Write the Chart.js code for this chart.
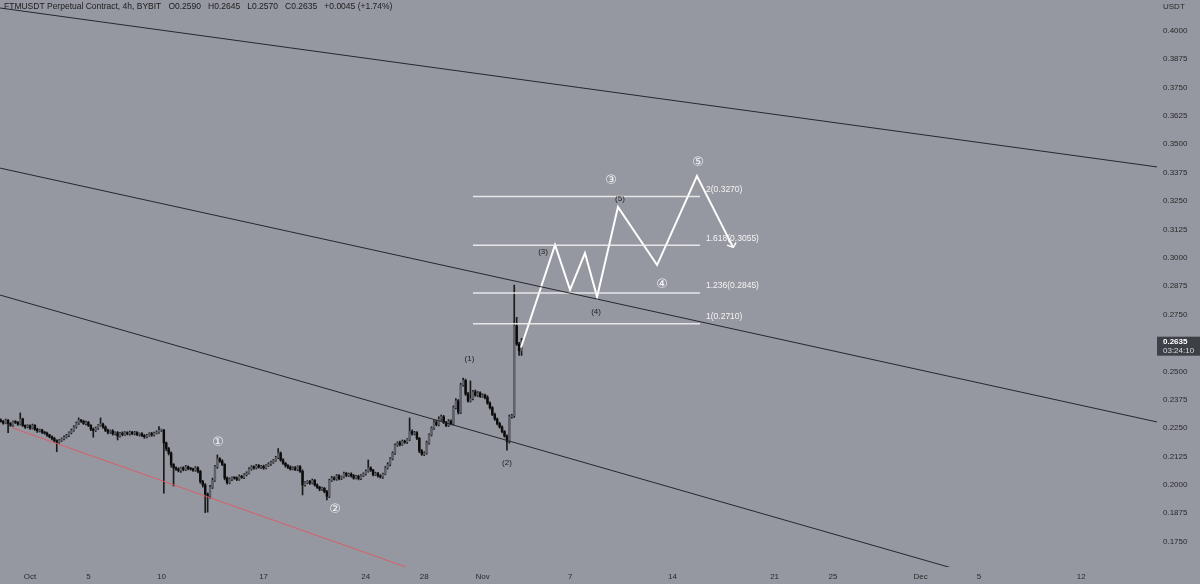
<!DOCTYPE html>
<html>
<head>
<meta charset="utf-8">
<script src="https://cdn.jsdelivr.net/npm/chart.js@4.4.1/dist/chart.umd.min.js"></script>
<style>
  body { margin: 0; background: #9598a1; }
  #wrap { width: 1200px; height: 584px; }
</style>
</head>
<body>
<div id="wrap"><canvas id="myChart" width="1200" height="584"></canvas></div>
<script>
'use strict'

// 4h candles, x = days since Oct 1, prices in 1/10000 USDT
let startDay = -2;
let firstOpen = 2285;
let closes = [
  2280,2272,2285,2270,2262,2278, 2275,2268,2290,2262,2255,2260,
  2250,2262,2245,2238,2242,2232, 2228,2220,2212,2205,2195,2188,
  2195,2203,2210,2218,2230,2240, 2255,2272,2285,2280,2270,2275,
  2262,2245,2240,2250,2262,2268, 2255,2240,2232,2238,2225,2230,
  2215,2228,2222,2230,2225,2232, 2226,2230,2222,2225,2218,2212,
  2218,2226,2220,2228,2232,2240, 2240,2185,2160,2140,2090,2075,
  2070,2062,2075,2068,2080,2072, 2070,2065,2075,2060,2015,2000,
  1960,1950,1990,2020,2080,2115, 2105,2090,2030,2010,2025,2032,
  2030,2025,2038,2033,2045,2052, 2070,2080,2075,2085,2078,2082,
  2075,2085,2092,2100,2108,2120, 2140,2110,2095,2085,2078,2070,
  2075,2068,2080,2060,2000,2010, 2015,2008,2020,2000,1990,1982,
  1985,1970,1950,2020,2030,2025, 2040,2028,2035,2050,2042,2048,
  2040,2030,2038,2028,2040,2048, 2060,2075,2065,2045,2050,2040,
  2035,2048,2075,2090,2115,2140, 2175,2185,2178,2192,2188,2200,
  2235,2225,2230,2205,2150,2135, 2140,2185,2220,2250,2275,2265,
  2290,2300,2275,2262,2280,2270, 2340,2370,2320,2440,2460,2400,
  2370,2380,2410,2395,2405,2390, 2395,2385,2360,2340,2310,2290,
  2270,2255,2235,2215,2190,2300, 2305,2700,2620,2590,2635
];
let wickUp = [
  6,4,5,3,5,4, 5,4,27,4,3,5, 5,6,4,5,4,3, 4,5,3,4,5,4,
  5,4,6,5,4,6, 6,5,10,4,5,6, 5,4,6,5,4,27, 4,5,6,4,5,4,
  5,4,6,5,4,5, 4,6,5,4,5,4, 5,4,6,5,6,17, 6,5,4,5,6,4,
  5,6,4,5,6,4, 5,4,6,5,4,5, 6,5,8,10,6,17, 5,6,4,5,6,4,
  4,5,6,4,5,6, 6,5,4,6,5,4, 5,4,6,5,4,6, 20,5,6,4,5,6,
  5,6,4,5,6,5, 4,5,6,4,5,4, 5,4,6,5,8,6, 6,5,4,6,5,4,
  5,6,4,5,6,5, 6,35,5,4,6,5, 5,4,6,8,5,6, 6,5,8,6,5,4,
  60,8,6,5,4,6, 6,8,5,6,8,10, 10,8,6,5,8,6, 8,10,6,8,10,6,
  8,78,6,8,6,5, 6,5,8,6,5,6, 5,6,5,4,6,8, 6,180,38,8,10
];
let wickDn = [
  4,5,3,40,4,5, 5,6,4,5,6,4, 6,4,5,7,5,6, 5,6,5,7,6,42,
  5,4,5,4,6,5, 4,5,6,5,4,6, 5,6,30,5,6,4, 6,5,7,5,6,5,
  17,5,6,4,5,6, 5,6,5,7,6,7, 5,4,6,5,4,5, 5,221,10,8,12,80,
  6,5,7,6,5,6, 5,6,5,7,8,10, 82,70,8,6,5,7, 6,5,8,7,5,6,
  5,6,5,4,6,5, 4,5,6,5,4,6, 6,5,4,6,5,4, 5,6,5,7,6,5,
  4,5,6,5,44,6, 5,6,4,5,6,8, 6,5,16,6,5,4, 5,6,5,4,6,5,
  6,5,4,6,5,4, 5,4,6,5,4,6, 5,6,4,5,6,5, 6,5,6,4,5,6,
  5,6,5,6,8,5, 6,5,6,5,6,5, 5,6,5,6,5,6, 6,5,8,6,5,6,
  6,5,6,5,6,5, 5,6,5,6,5,6, 6,5,6,5,37,6, 6,8,6,20,20
];

let xTickDays = [0, 4, 9, 16, 23, 27, 31, 37, 44, 51, 55, 61, 65, 72];
let xTickLabels = ['Oct', '5', '10', '17', '24', '28', 'Nov', '7', '14', '21', '25', 'Dec', '5', '12'];
let yTicks = [0.175, 0.1875, 0.2, 0.2125, 0.225, 0.2375, 0.25, 0.275, 0.2875, 0.3, 0.3125,
  0.325, 0.3375, 0.35, 0.3625, 0.375, 0.3875, 0.4];

// drawn lines (day, price)
let channelTop = [[-2.05, 0.4100], [77.2, 0.3400]];
let channelMid = [[-2.05, 0.3395], [77.2, 0.2277]];
let channelLow = [[-2.05, 0.2836], [77.2, 0.1375]];
let redLine = [[-1.2, 0.2251], [25.96, 0.1634]];

let fibLevels = ['1', '1.236', '1.618', '2'];
let fibPrices = [0.2710, 0.2845, 0.3055, 0.3270];
let fibFrom = 30.34;
let fibTo = 45.89;

let waveX = [33.63, 35.96, 36.99, 38.01, 38.84, 40.27, 42.95, 45.68, 48.15];
let waveY = [0.2605, 0.3057, 0.2859, 0.3021, 0.2828, 0.3224, 0.2968, 0.3360, 0.3047];
let arrowHead = [[47.74, 0.3056], [48.17, 0.3046], [48.36, 0.3068]];

let circleLabels = [['①', 12.88, 0.2184], ['②', 20.9, 0.1889], ['③', 39.8, 0.3342], ['④', 43.3, 0.2884], ['⑤', 45.75, 0.3420]];
let smallLabels = [['(1)', 30.1, 0.2555], ['(2)', 32.67, 0.2098], ['(3)', 35.14, 0.3026], ['(4)', 38.77, 0.2761], ['(5)', 40.41, 0.3258]];

let lastTime = '03:24:10';

// build candles
let wicks = [];
let bodies = [];
let bodyColors = [];
let prev = firstOpen;
for (let i = 0; i < closes.length; i++) {
  let o = prev / 10000;
  let c = closes[i] / 10000;
  let hi = Math.max(o, c) + wickUp[i] / 10000;
  let lo = Math.min(o, c) - wickDn[i] / 10000;
  let x = startDay + i / 6;
  wicks.push({ x: x, y: [lo, hi] });
  bodies.push({ x: x, y: [o, c] });
  bodyColors.push(c >= o ? '#5f6269' : '#0b0b0b');
  prev = closes[i];
}
let lastClose = closes[closes.length - 1] / 10000;

function pts(arr) {
  return arr.map(p => ({ x: p[0], y: p[1] }));
}

let fibSets = fibPrices.map(p => ({
  type: 'line',
  data: [{ x: fibFrom, y: p }, { x: fibTo, y: p }],
  borderColor: 'rgba(240,240,240,0.9)',
  borderWidth: 1.5,
  pointRadius: 0,
  order: 1
}));

function lineSet(data, color, width) {
  return {
    type: 'line',
    data: data,
    borderColor: color,
    borderWidth: width,
    pointRadius: 0,
    tension: 0,
    order: 1
  };
}

let overlay = {
  id: 'overlay',
  beforeDraw(chart) {
    let ctx = chart.ctx;
    ctx.save();
    ctx.fillStyle = '#9598a1';
    ctx.fillRect(0, 0, chart.width, chart.height);
    ctx.restore();
  },
  afterDatasetsDraw(chart) {
    let ctx = chart.ctx;
    let xs = chart.scales.x;
    let ys = chart.scales.y;
    ctx.save();
    ctx.textBaseline = 'middle';

    // fib labels
    ctx.font = '8.5px "Liberation Sans", Arial, sans-serif';
    ctx.fillStyle = '#f4f4f4';
    ctx.textAlign = 'left';
    for (let i = 0; i < fibPrices.length; i++) {
      ctx.fillText(fibLevels[i] + '(' + fibPrices[i].toFixed(4) + ')', xs.getPixelForValue(fibTo) + 6, ys.getPixelForValue(fibPrices[i]) - 7);
    }

    ctx.textAlign = 'center';
    ctx.font = '13px "DejaVu Sans", sans-serif';
    ctx.fillStyle = '#f6f6f6';
    circleLabels.forEach(l => ctx.fillText(l[0], xs.getPixelForValue(l[1]), ys.getPixelForValue(l[2])));

    ctx.font = '8px "Liberation Sans", Arial, sans-serif';
    ctx.fillStyle = '#1e1e1e';
    smallLabels.forEach(l => ctx.fillText(l[0], xs.getPixelForValue(l[1]), ys.getPixelForValue(l[2])));
    ctx.restore();
  },
  afterDraw(chart) {
    let ctx = chart.ctx;
    let ys = chart.scales.y;
    let area = chart.chartArea;
    ctx.save();
    ctx.textBaseline = 'middle';
    ctx.textAlign = 'left';
    ctx.font = '8.5px "Liberation Sans", Arial, sans-serif';
    ctx.fillStyle = '#1c1c1c';
    ctx.fillText('FTMUSDT Perpetual Contract, 4h, BYBIT   O0.2590   H0.2645   L0.2570   C0.2635   +0.0045 (+1.74%)', 4, 7);
    ctx.font = '8px "Liberation Sans", Arial, sans-serif';
    ctx.fillStyle = '#2a2a2a';
    ctx.fillText('USDT', area.right + 6, 7);

    // last price box
    let py = ys.getPixelForValue(lastClose);
    ctx.fillStyle = '#3d4047';
    ctx.fillRect(area.right, py - 4, chart.width - area.right, 19);
    ctx.fillStyle = '#ffffff';
    ctx.font = 'bold 8px "Liberation Sans", Arial, sans-serif';
    ctx.fillText(lastClose.toFixed(4), area.right + 6, py + 1);
    ctx.font = '8px "Liberation Sans", Arial, sans-serif';
    ctx.fillStyle = '#dcdcdc';
    ctx.fillText(lastTime, area.right + 6, py + 10);
    ctx.restore();
  }
};

let ctx = document.getElementById('myChart').getContext('2d');
let myChart = new Chart(ctx, {
  type: 'bar',
  data: {
    datasets: [
      {
        data: wicks,
        backgroundColor: '#1a1a1a',
        barThickness: 1,
        grouped: false,
        order: 3
      },
      {
        data: bodies,
        backgroundColor: bodyColors,
        barThickness: 1.8,
        minBarLength: 1,
        grouped: false,
        order: 2
      },
      lineSet(pts(channelTop), '#26272b', 1),
      lineSet(pts(channelMid), '#26272b', 1),
      lineSet(pts(channelLow), '#26272b', 1),
      lineSet(pts(redLine), 'rgba(226,88,96,0.9)', 1),
      ...fibSets,
      lineSet(waveX.map((x, i) => ({ x: x, y: waveY[i] })), '#ffffff', 2),
      lineSet(pts(arrowHead), '#ffffff', 1.5)
    ]
  },
  options: {
    responsive: false,
    animation: false,
    devicePixelRatio: 1,
    layout: { padding: 0 },
    plugins: {
      legend: { display: false },
      tooltip: { enabled: false }
    },
    scales: {
      x: {
        type: 'linear',
        min: -2.055,
        max: 77.19,
        offset: false,
        grid: { display: false, drawTicks: false },
        border: { display: false },
        afterBuildTicks: (scale) => { scale.ticks = xTickDays.map(v => ({ value: v })); },
        afterFit: (scale) => {
          scale.height = 17;
          scale.paddingLeft = 0;
          scale.paddingRight = 0;
        },
        ticks: {
          autoSkip: false,
          maxRotation: 0,
          padding: 5,
          color: '#2a2a2a',
          font: { family: '"Liberation Sans", Arial, sans-serif', size: 8 },
          callback: (v, i) => xTickLabels[i]
        }
      },
      y: {
        type: 'linear',
        position: 'right',
        min: 0.16385,
        max: 0.41352,
        beginAtZero: false,
        grid: { display: false, drawTicks: false },
        border: { display: false },
        afterBuildTicks: (scale) => { scale.ticks = yTicks.map(v => ({ value: v })); },
        afterFit: (scale) => {
          scale.width = 43;
          scale.paddingTop = 0;
          scale.paddingBottom = 0;
        },
        ticks: {
          padding: 6,
          color: '#2a2a2a',
          font: { family: '"Liberation Sans", Arial, sans-serif', size: 8 },
          callback: (v) => v.toFixed(4)
        }
      }
    }
  },
  plugins: [overlay]
});
</script>
</body>
</html>
